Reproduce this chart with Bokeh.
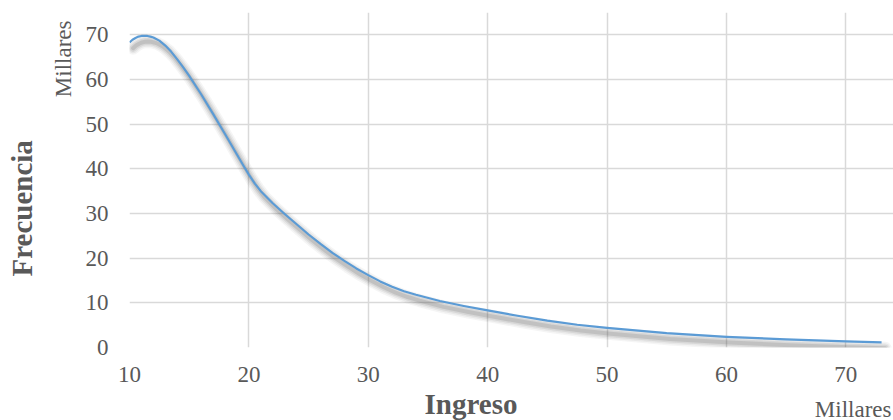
import math
from bokeh.plotting import figure
from bokeh.models import ColumnDataSource, Title, FixedTicker, Range1d
from bokeh.transform import dodge
from bokeh.embed import file_html
from bokeh.resources import INLINE

# Data (thousands)
ingreso = [10, 10.25, 10.5, 10.75, 11, 11.25, 11.5, 11.75, 12, 12.5, 13, 13.5, 14, 14.5,
           15, 16, 17, 18, 19, 19.5, 20, 20.5, 21, 22, 23, 24, 25, 26, 27, 28, 29, 30, 31,
           32, 33, 34, 36, 38, 40, 42.5, 45, 47.5, 50, 55, 60, 65, 70, 73]
frecuencia = [68.3, 68.9, 69.3, 69.6, 69.75, 69.8, 69.75, 69.6, 69.4, 68.7, 67.6, 66.2,
              64.5, 62.7, 60.8, 56.7, 52.3, 47.8, 43.2, 40.9, 38.7, 36.7, 35.0, 32.3,
              29.9, 27.6, 25.3, 23.2, 21.2, 19.4, 17.7, 16.2, 14.8, 13.6, 12.6, 11.8,
              10.4, 9.3, 8.3, 7.1, 6.0, 5.1, 4.4, 3.2, 2.4, 1.8, 1.35, 1.15]
x_ticks = [10, 20, 30, 40, 50, 60, 70]
y_ticks = [0, 10, 20, 30, 40, 50, 60, 70]

FONT = "Liberation Serif"
GRAY = "#595959"

src = ColumnDataSource(dict(x=ingreso, y=frecuencia))

p = figure(width=893, height=420, output_backend="svg", toolbar_location=None,
           x_range=Range1d(10, 74), y_range=Range1d(0, 75),
           min_border_left=129, min_border_right=0, min_border_top=12, min_border_bottom=73)
p.outline_line_color = None
p.background_fill_color = "white"
p.border_fill_color = "white"

# shadow (blurred, offset down-right)
for w, a in [(13, 0.05), (10, 0.07), (7, 0.10), (4, 0.14)]:
    p.line(x=dodge("x", 0.3), y=dodge("y", -1.3), source=src,
           line_color="#404040", line_width=w, line_alpha=a, line_join="round", line_cap="round")

p.line(x="x", y="y", source=src, line_color="#5B9BD5", line_width=2.2, line_join="round")

for ax in (p.xaxis[0], p.yaxis[0]):
    ax.axis_line_color = None
    ax.major_tick_line_color = None
    ax.minor_tick_line_color = None
    ax.major_tick_out = 0
    ax.major_tick_in = 0
    ax.major_label_text_font = FONT
    ax.major_label_text_font_size = "23px"
    ax.major_label_text_color = GRAY

p.xaxis[0].ticker = FixedTicker(ticks=x_ticks)
p.yaxis[0].ticker = FixedTicker(ticks=y_ticks)
p.xaxis[0].major_label_standoff = 19
p.yaxis[0].major_label_standoff = 21

p.xgrid[0].ticker = FixedTicker(ticks=x_ticks)
p.ygrid[0].ticker = FixedTicker(ticks=y_ticks)
for g in (p.xgrid[0], p.ygrid[0]):
    g.grid_line_color = "#d9d9d9"
    g.grid_line_width = 1.5

def mk(text, size, bold, align, offset, standoff, valign="bottom"):
    return Title(text=text, text_font=FONT, text_font_size=size,
                 text_font_style="bold" if bold else "normal", text_color=GRAY,
                 align=align, offset=offset, standoff=standoff, vertical_align=valign)

p.add_layout(mk("Ingreso", "29px", True, "left", 295, 2), "below")
p.add_layout(mk("Millares", "23px", False, "right", 2, -48, "top"), "below")
p.add_layout(mk("Millares", "23px", False, "right", 8, 14), "left")
p.add_layout(mk("Frecuencia", "29px", True, "left", 71, 7), "left")

open("out.html", "w").write(file_html(p, INLINE))
